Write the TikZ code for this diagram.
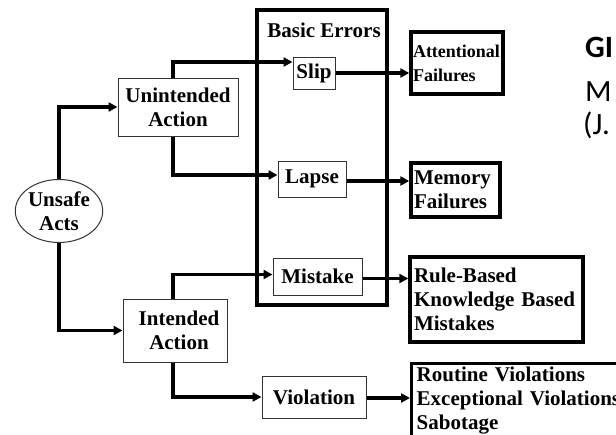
\documentclass[tikz,border=0pt]{standalone}
\usepackage{fontspec}
\setmainfont{Liberation Serif}
\newfontfamily\titlefont{Carlito}
\usetikzlibrary{arrows.meta,calc,shapes.geometric}

\begin{document}
\begin{tikzpicture}[x=1pt,y=-1pt,
  every node/.style={font=\bfseries\fontsize{21}{24}\selectfont, inner sep=0pt},
  thinbox/.style={draw=black!80, line width=1pt, rectangle, align=center},
  thickbox/.style={draw, line width=3.4pt, rectangle, align=left},
  conn/.style={line width=3.4pt, -{Triangle[length=9pt,width=9pt]}},
  titletext/.style={font=\titlefont\fontsize{31}{31}\selectfont, anchor=base west}
]
\useasboundingbox (0,0) rectangle (616,434);
\clip (0,0) rectangle (616,434);

% root of the tree
\node[draw=black!80, line width=1pt, ellipse, minimum width=77, minimum height=63, align=center] (acts) at (59,211) {Unsafe\\Acts};

% the two kinds of action
\node[thinbox, minimum width=120, minimum height=58] (ua) at (178,107) {Unintended\\Action};
\node[thinbox, minimum width=104, minimum height=63] (ia) at (175,330.5) {\hspace*{8pt}Intended\\\hspace*{8pt}Action};

% basic errors frame
\node[draw, line width=3.4pt, minimum width=130, minimum height=295] (be) at (322,157.5) {};
\node[anchor=base] (belbl) at (324,37) {Basic Errors};

% error types
\node[thinbox, minimum width=42, minimum height=32] (slip) at (314,73) {Slip};
\node[thinbox, minimum width=68, minimum height=36] (lapse) at (312,179) {Lapse};
\node[thinbox, minimum width=89, minimum height=37] (mistake) at (317.5,276.5) {Mistake};
\node[thinbox, minimum width=104, minimum height=42] (viol) at (314,397) {Violation};

% outcomes
\node[thickbox, minimum width=92, minimum height=62, text width=88, inner xsep=2pt,
      font=\bfseries\fontsize{18}{24}\selectfont] (att) at (457,63) {Attentional\\Failures};
\node[thickbox, minimum width=89, minimum height=54, text width=83, inner xsep=3pt] (mem) at (455.5,190) {Memory\\Failures};
\node[thickbox, minimum width=173, minimum height=85, text width=165, inner xsep=4pt] (rb) at (496.5,299.5) {Rule-Based\\Knowledge Based\\Mistakes};
\node[thickbox, anchor=north west, minimum width=260, text width=250, inner xsep=4pt, inner ysep=3.5pt, text depth=60pt] (vt) at (410,362) {Routine Violations\\Exceptional Violations\\Sabotage};

% slide heading at the right edge
\node[titletext, font=\titlefont\bfseries\fontsize{31}{31}\selectfont] (t1) at (585,57) {GI};
\node[titletext] (t2) at (585,101) {M};
\node[titletext] (t3) at (583,134) {(J.};

% connectors
\draw[conn] (acts.north) |- (ua.west);
\draw[conn] (acts.south) |- (ia.west);
\draw[conn] ($(ua.north)+(-5,0)$) |- ($(slip.west)+(0,-11)$);
\draw[conn] ($(ua.south)+(-5,0)$) |- ($(lapse.west)+(0,-4)$);
\draw[conn] ($(ia.north)+(-2,0)$) |- ($(mistake.west)+(0,-2)$);
\draw[conn] ($(ia.south)+(-2,0)$) |- (viol.west);
\draw[conn] (slip.east) -- (att.west |- slip.east);
\draw[conn] ($(lapse.east)+(0,2)$) -- ($(mem.west |- lapse.east)+(0,2)$);
\draw[conn] ($(mistake.east)+(0,2)$) -- ($(rb.west |- mistake.east)+(0,2)$);
\draw[conn] ($(viol.east)+(0,1)$) -- ($(vt.west |- viol.east)+(0,1)$);
\end{tikzpicture}
\end{document}
